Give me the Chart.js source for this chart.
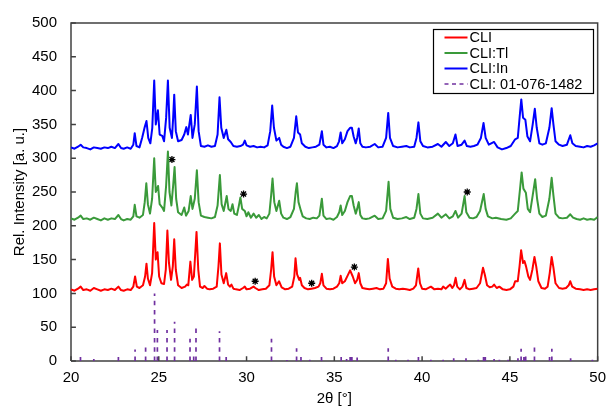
<!DOCTYPE html>
<html lang="en">
<head>
<meta charset="UTF-8">
<title>XRD CLI</title>
<script src="https://cdn.jsdelivr.net/npm/chart.js"></script>
<style>
    html, body { margin: 0; padding: 0; background: #fff; overflow: hidden; }
    canvas { display: block; }
</style>
</head>
<body>
<canvas id="xrd" width="614" height="409"></canvas>
<script>
    // 2theta / intensity pairs
    const cli = [[20,106],[20.2,104],[20.4,107],[20.55,110],[20.7,105],[20.9,106],[21.1,104],[21.3,108],[21.5,106],[21.7,104],[21.9,106],[22.1,105],[22.3,107],[22.5,105],[22.7,110],[22.85,105],[23.0,104],[23.2,106],[23.4,105],[23.55,110],[23.65,125],[23.75,110],[23.9,108],[24.1,112],[24.22,125],[24.3,144],[24.38,122],[24.5,112],[24.62,130],[24.74,204],[24.83,150],[24.93,161],[25.02,125],[25.15,115],[25.3,114],[25.4,135],[25.49,193],[25.58,145],[25.7,120],[25.8,140],[25.88,180],[25.97,135],[26.1,112],[26.3,108],[26.5,110],[26.6,113],[26.68,112],[26.8,147],[26.9,120],[27.0,125],[27.15,191],[27.25,135],[27.35,110],[27.5,108],[27.6,111],[27.75,107],[27.9,106],[28.1,107],[28.3,110],[28.4,140],[28.48,174],[28.57,128],[28.7,115],[28.84,130],[28.95,113],[29.05,110],[29.14,113],[29.25,107],[29.4,106],[29.6,105],[29.8,108],[29.9,110],[30.0,106],[30.2,107],[30.4,110],[30.5,108],[30.7,105],[30.9,106],[31.1,107],[31.3,112],[31.4,135],[31.48,161],[31.57,125],[31.7,112],[31.85,118],[32.0,109],[32.2,106],[32.4,107],[32.6,110],[32.72,125],[32.79,152],[32.88,128],[33.0,120],[33.05,123],[33.15,112],[33.3,108],[33.5,106],[33.7,107],[33.9,108],[34.1,110],[34.2,115],[34.29,129],[34.38,112],[34.55,107],[34.75,106],[34.95,107],[35.15,110],[35.28,115],[35.36,126],[35.45,115],[35.6,118],[35.75,126],[35.9,134],[36.05,125],[36.18,115],[36.3,120],[36.39,130],[36.48,115],[36.6,108],[36.8,107],[37.0,106],[37.2,107],[37.4,108],[37.6,106],[37.8,107],[37.95,115],[38.05,151],[38.15,122],[38.3,110],[38.5,107],[38.7,106],[38.9,107],[39.1,106],[39.3,105],[39.5,107],[39.65,112],[39.78,137],[39.88,115],[40.0,107],[40.2,106],[40.5,110],[40.7,106],[40.9,107],[41.1,106],[41.2,110],[41.35,107],[41.5,111],[41.6,113],[41.72,108],[41.82,112],[41.91,123],[42.0,110],[42.15,106],[42.3,110],[42.42,120],[42.52,108],[42.7,106],[42.9,107],[43.1,108],[43.3,115],[43.47,138],[43.57,128],[43.7,112],[43.85,109],[44.0,110],[44.1,113],[44.25,108],[44.4,110],[44.6,106],[44.8,105],[45.0,106],[45.2,110],[45.3,118],[45.45,118],[45.55,140],[45.64,164],[45.75,145],[45.83,148],[45.92,140],[46.05,125],[46.15,120],[46.28,135],[46.4,154],[46.5,140],[46.62,118],[46.8,108],[47.0,107],[47.15,110],[47.27,130],[47.38,154],[47.48,138],[47.6,115],[47.8,108],[48.0,107],[48.2,108],[48.35,112],[48.44,118],[48.55,110],[48.75,107],[49.0,106],[49.2,105],[49.4,106],[49.6,105],[49.8,106],[50,107]];

    const cliTl = [[20,211],[20.2,209],[20.4,212],[20.55,215],[20.7,210],[20.9,211],[21.1,209],[21.3,212],[21.5,210],[21.7,208],[21.9,211],[22.1,209],[22.3,211],[22.5,210],[22.7,216],[22.85,210],[23.0,208],[23.2,210],[23.4,209],[23.55,214],[23.63,231],[23.73,214],[23.9,212],[24.1,216],[24.2,235],[24.29,263],[24.38,232],[24.5,218],[24.62,240],[24.74,300],[24.83,250],[24.96,259],[25.05,232],[25.2,227],[25.3,222],[25.42,260],[25.52,310],[25.61,250],[25.72,230],[25.82,260],[25.9,287],[25.99,240],[26.1,220],[26.3,216],[26.45,227],[26.55,215],[26.7,222],[26.82,244],[26.92,225],[27.05,240],[27.17,282],[27.27,235],[27.4,215],[27.6,213],[27.8,212],[28.0,211],[28.2,213],[28.35,230],[28.48,275],[28.58,232],[28.7,222],[28.87,244],[28.97,225],[29.1,222],[29.2,232],[29.3,218],[29.45,216],[29.55,228],[29.65,242],[29.75,225],[29.9,222],[30.0,214],[30.1,220],[30.25,212],[30.4,218],[30.55,212],[30.7,216],[30.85,210],[31.0,213],[31.15,211],[31.3,218],[31.4,245],[31.48,270],[31.58,235],[31.7,222],[31.86,237],[31.97,218],[32.1,212],[32.3,210],[32.5,213],[32.7,225],[32.8,250],[32.87,263],[32.96,235],[33.1,222],[33.2,214],[33.4,211],[33.6,210],[33.8,212],[34.0,211],[34.15,215],[34.29,240],[34.38,215],[34.55,210],[34.75,211],[34.95,209],[35.15,213],[35.28,220],[35.36,230],[35.45,216],[35.6,222],[35.75,235],[35.9,244],[36.0,244],[36.1,230],[36.22,218],[36.3,225],[36.39,235],[36.48,216],[36.6,211],[36.8,210],[37.0,211],[37.3,215],[37.5,210],[37.75,211],[37.95,222],[38.09,265],[38.19,225],[38.35,212],[38.6,210],[38.85,211],[39.1,213],[39.3,210],[39.55,212],[39.68,225],[39.79,247],[39.9,218],[40.05,211],[40.3,210],[40.6,212],[40.9,218],[41.1,212],[41.35,217],[41.55,211],[41.75,214],[41.9,222],[42.05,212],[42.25,218],[42.42,244],[42.52,220],[42.7,212],[42.9,211],[43.1,213],[43.3,222],[43.51,247],[43.62,225],[43.75,214],[44.0,211],[44.2,212],[44.5,210],[44.8,209],[45.05,211],[45.3,218],[45.45,222],[45.58,255],[45.67,279],[45.77,255],[45.91,249],[46.02,225],[46.15,220],[46.3,245],[46.44,269],[46.55,240],[46.68,218],[46.85,213],[47.05,215],[47.25,240],[47.38,271],[47.48,245],[47.6,218],[47.8,212],[48.0,211],[48.25,212],[48.44,217],[48.6,212],[48.8,210],[49.0,209],[49.2,211],[49.4,209],[49.6,210],[49.8,209],[50,213]];

    const cliIn = [[20,316],[20.2,314],[20.4,317],[20.55,320],[20.7,316],[20.9,315],[21.1,313],[21.3,316],[21.5,315],[21.7,314],[21.9,316],[22.1,315],[22.3,317],[22.5,315],[22.7,321],[22.85,315],[23.0,314],[23.2,316],[23.4,314],[23.55,320],[23.63,337],[23.73,318],[23.9,316],[24.05,330],[24.2,346],[24.3,355],[24.4,330],[24.52,322],[24.63,345],[24.74,415],[24.83,350],[24.95,371],[25.05,335],[25.2,333],[25.3,325],[25.42,360],[25.52,415],[25.62,345],[25.75,330],[25.82,360],[25.88,394],[25.97,340],[26.1,325],[26.3,327],[26.45,335],[26.57,346],[26.66,335],[26.82,364],[26.92,330],[27.05,350],[27.17,406],[27.27,340],[27.4,318],[27.6,317],[27.8,319],[28.0,317],[28.2,318],[28.35,335],[28.46,390],[28.56,345],[28.7,330],[28.85,342],[28.95,328],[29.1,324],[29.25,318],[29.45,317],[29.65,318],[29.8,320],[29.9,326],[30.0,319],[30.2,317],[30.4,318],[30.6,316],[30.8,317],[31.0,316],[31.2,319],[31.35,340],[31.46,378],[31.56,345],[31.7,326],[31.86,330],[31.97,320],[32.1,317],[32.3,315],[32.5,317],[32.7,330],[32.83,362],[32.93,338],[33.05,335],[33.15,322],[33.35,317],[33.55,315],[33.75,316],[33.95,317],[34.15,320],[34.29,340],[34.38,320],[34.55,316],[34.75,317],[34.95,315],[35.15,318],[35.27,325],[35.36,338],[35.45,322],[35.6,328],[35.75,340],[35.9,345],[36.0,345],[36.1,332],[36.22,322],[36.3,330],[36.39,344],[36.48,322],[36.6,317],[36.8,316],[37.05,317],[37.3,321],[37.5,316],[37.75,317],[37.95,330],[38.07,367],[38.17,330],[38.35,318],[38.6,316],[38.85,317],[39.1,318],[39.3,316],[39.55,317],[39.68,330],[39.79,353],[39.9,325],[40.05,318],[40.3,316],[40.6,317],[40.9,321],[41.1,317],[41.35,324],[41.55,318],[41.75,322],[41.9,335],[42.02,318],[42.25,320],[42.42,326],[42.55,318],[42.75,317],[42.95,318],[43.15,320],[43.35,330],[43.5,352],[43.62,330],[43.8,320],[44.1,324],[44.3,316],[44.55,313],[44.8,315],[45.05,318],[45.3,328],[45.45,330],[45.57,365],[45.65,387],[45.75,360],[45.88,357],[46.0,332],[46.15,325],[46.3,350],[46.42,373],[46.53,345],[46.68,322],[46.85,320],[47.05,322],[47.25,345],[47.38,374],[47.48,350],[47.6,325],[47.8,320],[48.0,318],[48.25,320],[48.44,334],[48.56,322],[48.75,318],[49.0,317],[49.2,316],[49.4,318],[49.6,317],[49.8,319],[50,322]];

    // reference pattern 01-076-1482: position, relative intensity
    const refPeaks = [[20.54,6],[21.3,3],[22.70,6],[23.65,17],[24.25,20],[24.76,100],[24.92,46],[25.47,46],[25.90,58],[26.78,33],[26.99,13],[27.12,55],[28.46,44],[28.84,6],[31.42,33],[32.3,1.5],[32.85,19],[33.1,6],[33.6,2],[34.27,6],[35.39,6],[35.7,3],[35.9,6],[36.0,6],[36.3,5],[38.07,19],[38.5,2],[39.2,2],[39.79,6],[40.5,2],[41.2,2],[41.8,4],[42.5,4],[43.2,2],[43.5,6],[43.6,6],[44.1,3],[44.4,2],[44.9,2],[45.46,4],[45.64,18],[45.8,6],[45.9,13],[46.40,20],[47.26,6],[47.39,18],[48.46,4],[49.7,2]];

    // asterisk markers (impurity peaks)
    const stars = [[25.75,298],[29.83,247],[42.57,250],[30.49,118],[33.71,115],[36.14,139]];

    const seriesLabels = ['CLI', 'CLI:Tl', 'CLI:In', 'CLI: 01-076-1482'];
    const seriesColors = ['#ff0000', '#3a9a3a', '#0000ff', '#7030a0'];
    const xTicks = [20, 25, 30, 35, 40, 45, 50];
    const yTicks = [0, 50, 100, 150, 200, 250, 300, 350, 400, 450, 500];

    const toXY = arr => arr.map(p => ({ x: p[0], y: p[1] }));
    const stickData = refPeaks.flatMap(p => [{ x: p[0], y: 0 }, { x: p[0], y: p[1] }, { x: p[0], y: null }]);

    // plot frame drawn through the scales, plus short inward tick marks
    const xLo = xTicks[0], xHi = xTicks[xTicks.length - 1];
    const yLo = yTicks[0], yHi = yTicks[yTicks.length - 1];
    const frameData = [{ x: xLo, y: yLo }, { x: xHi, y: yLo }, { x: xHi, y: yHi }, { x: xLo, y: yHi }, { x: xLo, y: yLo }];
    const tickData = [
        ...yTicks.flatMap(v => [{ x: xLo, y: v }, { x: xLo + 0.28, y: v }, { x: xLo, y: null }]),
        ...xTicks.flatMap(v => [{ x: v, y: yLo }, { x: v, y: yLo + 7 }, { x: v, y: null }])
    ];

    Chart.defaults.font.family = "'Liberation Sans', Arial, sans-serif";
    Chart.defaults.color = '#000';

    // axis titles and boxed legend
    const decor = {
        id: 'decor',
        afterDraw(chart) {
            const ctx = chart.ctx;
            const a = chart.chartArea;
            ctx.save();
            ctx.fillStyle = '#000';
            ctx.font = "15px 'Liberation Sans', Arial, sans-serif";
            ctx.textAlign = 'center';
            ctx.textBaseline = 'middle';
            ctx.fillText('2θ [°]', (a.left + a.right) / 2, 399);
            ctx.translate(20, (a.top + a.bottom) / 2);
            ctx.rotate(-Math.PI / 2);
            ctx.fillText('Rel. Intensity [a. u.]', 0, 0);
            ctx.restore();

            ctx.save();
            ctx.font = "14.5px 'Liberation Sans', Arial, sans-serif";
            const tw = Math.max(...seriesLabels.map(s => ctx.measureText(s).width));
            const bw = Math.round(11 + 23 + 3 + tw + 10);
            const bx = Math.round(a.right - 5 - bw) + 0.5, by = Math.round(a.top) + 6.5, rowH = 15.5, bh = 64;
            ctx.fillStyle = '#fff';
            ctx.fillRect(bx, by, bw, bh);
            ctx.strokeStyle = '#000';
            ctx.lineWidth = 1.2;
            ctx.strokeRect(bx, by, bw, bh);
            seriesLabels.forEach((s, i) => {
                const yy = by + 8 + i * rowH;
                ctx.strokeStyle = seriesColors[i];
                ctx.lineWidth = i === 3 ? 1.5 : 2;
                ctx.setLineDash(i === 3 ? [4, 3.5] : []);
                ctx.beginPath();
                ctx.moveTo(bx + 11, yy); ctx.lineTo(bx + 34, yy);
                ctx.stroke();
                ctx.setLineDash([]);
                ctx.fillStyle = '#000';
                ctx.textAlign = 'left';
                ctx.textBaseline = 'middle';
                ctx.fillText(s, bx + 36, yy + 0.5);
            });
            ctx.restore();
        }
    };

    new Chart(document.getElementById('xrd'), {
        type: 'line',
        data: {
            datasets: [
                { label: seriesLabels[3], data: stickData, borderColor: seriesColors[3], borderWidth: 1.7, borderDash: [4.5, 4.8], spanGaps: false },
                { label: seriesLabels[0], data: toXY(cli), borderColor: seriesColors[0], borderWidth: 2 },
                { label: seriesLabels[1], data: toXY(cliTl), borderColor: seriesColors[1], borderWidth: 2 },
                { label: seriesLabels[2], data: toXY(cliIn), borderColor: seriesColors[2], borderWidth: 2 },
                { label: 'stars', data: toXY(stars), showLine: false, pointStyle: 'star', pointRadius: 3.5,
                  pointBorderColor: '#000', pointBorderWidth: 1.3 },
                { label: 'frame', data: frameData, borderColor: '#404040', borderWidth: 1.5, clip: 4, borderJoinStyle: 'miter' },
                { label: 'ticks', data: tickData, borderColor: '#404040', borderWidth: 1.5, spanGaps: false, clip: 4 }
            ]
        },
        options: {
            responsive: false,
            animation: false,
            elements: {
                line: { tension: 0, fill: false, borderJoinStyle: 'round' },
                point: { radius: 0 }
            },
            layout: { autoPadding: false, padding: { top: 18, right: 9, left: 0, bottom: 0 } },
            plugins: { legend: { display: false }, tooltip: { enabled: false } },
            scales: {
                x: {
                    type: 'linear', min: xLo, max: xHi,
                    ticks: { stepSize: 5, padding: 8, font: { size: 15 }, maxRotation: 0 },
                    grid: { display: false, drawTicks: false },
                    border: { display: false },
                    afterFit(s) { s.height = 48; }
                },
                y: {
                    min: yLo, max: yHi,
                    ticks: { stepSize: 50, padding: 14, font: { size: 15 } },
                    grid: { display: false, drawTicks: false },
                    border: { display: false },
                    afterFit(s) { s.width = 71; }
                }
            }
        },
        plugins: [decor]
    });
</script>
</body>
</html>
